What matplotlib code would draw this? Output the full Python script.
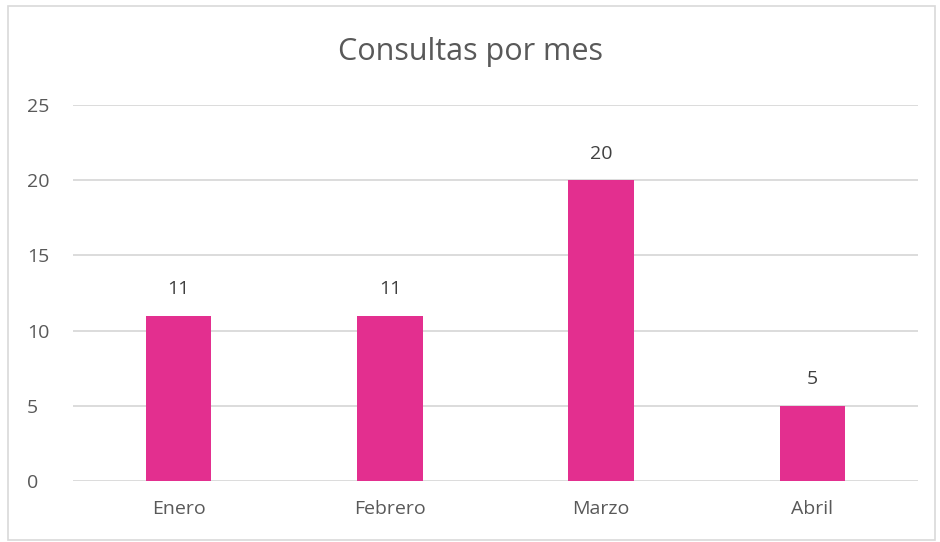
import numpy as np
import matplotlib.pyplot as plt
from matplotlib.patches import Rectangle

# datos del grafico
meses = ['Enero', 'Febrero', 'Marzo', 'Abril']
consultas = [11, 11, 20, 5]
yticks = [0, 5, 10, 15, 20, 25]

plt.rcParams['font.family'] = ['Open Sans', 'DejaVu Sans']
gris_txt = '#595959'
rosa = '#E32F8F'

W, H = 940, 542
fig = plt.figure(figsize=(W / 100, H / 100), dpi=100)
ax = fig.add_axes([73 / W, 1 - 481 / H, 845 / W, 376 / H])

# marco exterior del grafico
fig.patches.append(Rectangle((8 / W, 2 / H), 927 / W, 534 / H, transform=fig.transFigure,
                             fill=False, edgecolor='#D9D9D9', linewidth=1.2))

x = np.arange(len(meses))
barras = ax.bar(x, consultas, width=0.31, color=rosa, zorder=3)
for b, v in zip(barras, consultas):
    ax.annotate(str(v), (b.get_x() + b.get_width() / 2, v), xytext=(0, 19),
                textcoords='offset points', ha='center', va='center',
                fontsize=14, color='#404040')

ax.set_xlim(-0.5, len(meses) - 0.5)
ax.set_ylim(0, 25)
ax.set_yticks(yticks)
ax.set_xticks(x)
ax.set_xticklabels(meses)
ax.yaxis.grid(True, color='#D9D9D9', linewidth=1.3, zorder=0)
for s in ax.spines.values():
    s.set_visible(False)
ax.tick_params(axis='both', length=0, labelsize=14, labelcolor=gris_txt)
ax.tick_params(axis='x', pad=14)
ax.tick_params(axis='y', pad=33)
for lbl in ax.get_yticklabels():
    lbl.set_horizontalalignment('left')

fig.text(0.5, 1 - 52 / H, 'Consultas por mes', ha='center', va='center',
         fontsize=22, color=gris_txt)

fig.savefig('out.png', dpi=100)
